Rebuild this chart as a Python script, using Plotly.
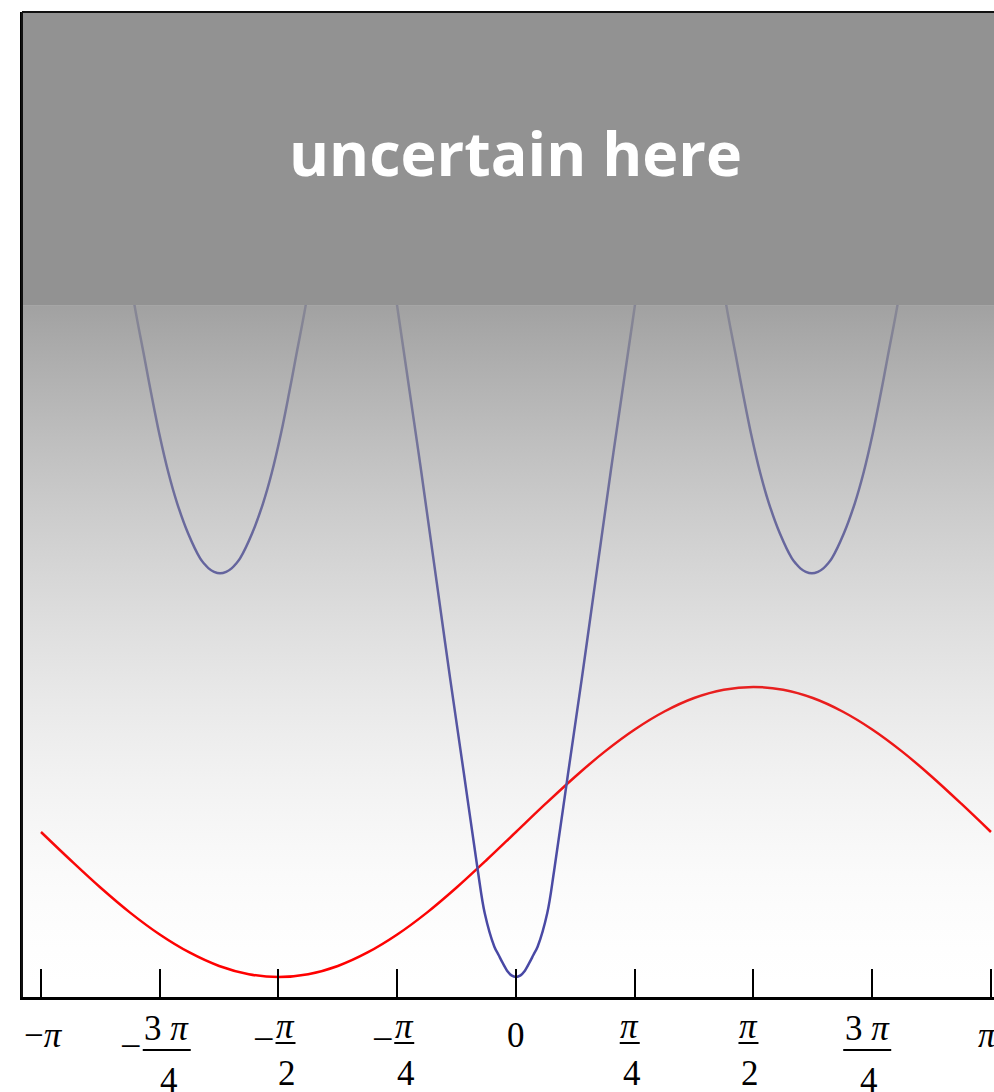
import base64
import math
import plotly.graph_objects as go

# ---- data -------------------------------------------------------------
PI = math.pi

# red curve
red_x = [-3.1416, -2.9452, -2.7489, -2.5525, -2.3562, -2.1598, -1.9635, -1.7671,
         -1.5708, -1.3744, -1.1781, -0.9817, -0.7854, -0.5890, -0.3927, -0.1963,
         0.0, 0.1963, 0.3927, 0.5890, 0.7854, 0.9817, 1.1781, 1.3744,
         1.5708, 1.7671, 1.9635, 2.1598, 2.3562, 2.5525, 2.7489, 2.9452, 3.1416]
red_y = [0.0, -0.195, -0.383, -0.556, -0.707, -0.831, -0.924, -0.981,
         -1.0, -0.981, -0.924, -0.831, -0.707, -0.556, -0.383, -0.195,
         0.0, 0.195, 0.383, 0.556, 0.707, 0.831, 0.924, 0.981,
         1.0, 0.981, 0.924, 0.831, 0.707, 0.556, 0.383, 0.195, 0.0]

# blue curve, three lobes (the parts above the shaded band are not shown)
blue_left_x = [-2.577, -2.523, -2.463, -2.413, -2.360, -2.298, -2.241, -2.169, -2.089, -2.062,
               -2.033, -1.997, -1.957, -1.917, -1.881, -1.852,
               -1.825, -1.745, -1.673, -1.616, -1.554, -1.501, -1.451, -1.391, -1.337]
blue_left_y = [3.99, 3.632, 3.301, 3.025, 2.750, 2.474, 2.267, 2.060, 1.887, 1.850,
               1.818, 1.794, 1.784, 1.794, 1.818, 1.850,
               1.887, 2.060, 2.267, 2.474, 2.750, 3.025, 3.301, 3.632, 3.99]
blue_mid_x = [-0.92, -0.787, -0.645, -0.524, -0.437, -0.344, -0.253, -0.207, -0.143, -0.115,
              -0.088, -0.055, -0.03, 0.0, 0.03, 0.055, 0.088,
              0.115, 0.143, 0.207, 0.253, 0.344, 0.437, 0.524, 0.645, 0.787, 0.92]
blue_mid_y = [4.6, 3.634, 2.62, 1.72, 1.07, 0.40, -0.262, -0.559, -0.791, -0.848,
              -0.903, -0.962, -0.989, -1.0, -0.989, -0.962, -0.903,
              -0.848, -0.791, -0.559, -0.262, 0.40, 1.07, 1.72, 2.62, 3.634, 4.6]
blue_right_x = [1.337, 1.391, 1.451, 1.501, 1.554, 1.616, 1.673, 1.745, 1.825, 1.852,
                1.881, 1.917, 1.957, 1.997, 2.033, 2.062,
                2.089, 2.169, 2.241, 2.298, 2.360, 2.413, 2.463, 2.523, 2.577]
blue_right_y = [3.99, 3.632, 3.301, 3.025, 2.750, 2.474, 2.267, 2.060, 1.887, 1.850,
                1.818, 1.794, 1.784, 1.794, 1.818, 1.850,
                1.887, 2.060, 2.267, 2.474, 2.750, 3.025, 3.301, 3.632, 3.99]

# x ticks: value, sign, numerator, denominator
tick_vals = [-PI, -3 * PI / 4, -PI / 2, -PI / 4, 0.0, PI / 4, PI / 2, 3 * PI / 4, PI]
tick_sign = ["", "−", "−", "−", "", "", "", "", ""]
tick_num = ["−<i>π</i>", "3 <i>π</i>", "<i>π</i>", "<i>π</i>", "0",
            "<i>π</i>", "<i>π</i>", "3 <i>π</i>", "<i>π</i>"]
tick_den = [None, "4", "2", "4", None, "4", "2", "4", None]

band_label = "uncertain here"

# ---- geometry ---------------------------------------------------------
W, H = 994, 1092
ML, MR, MT, MB = 22, 0, 12, 95
PW, PH = W - ML - MR, H - MT - MB
XR = [-3.2673, 3.1617]
YR = [-1.138, 5.655]
BAND_Y = 3.634
BOTTOM_PX = MT + PH  # pixel row of the x axis


def xpx(v):
    return ML + (v - XR[0]) / (XR[1] - XR[0]) * PW


def paper_x(px):
    return (px - ML) / PW


def paper_y(py):
    return (BOTTOM_PX - py) / PH


fig = go.Figure()

fig.add_trace(go.Scatter(x=red_x, y=red_y, mode="lines",
                         line=dict(color="rgb(255,0,0)", width=2.5, shape="spline"),
                         hoverinfo="skip", showlegend=False))

bx = blue_left_x + [None] + blue_mid_x + [None] + blue_right_x
by = blue_left_y + [None] + blue_mid_y + [None] + blue_right_y
fig.add_trace(go.Scatter(x=bx, y=by, mode="lines", connectgaps=False,
                         line=dict(color="rgb(72,72,165)", width=2.5, shape="spline",
                                   smoothing=1.0),
                         hoverinfo="skip", showlegend=False))

# ---- vertical haze: grey, transparent at the axis, dense under the band ----
stops = []
n = 32
for i in range(n + 1):
    off = i / n
    a = 0.86 * (1 - off) ** 1.7
    stops.append(f"<stop offset='{off:.4f}' stop-color='rgb(146,146,146)' stop-opacity='{a:.4f}'/>")
svg = ("<svg xmlns='http://www.w3.org/2000/svg' width='10' height='100' viewBox='0 0 10 100' "
       "preserveAspectRatio='none'><defs><linearGradient id='g' x1='0' y1='0' x2='0' y2='1'>"
       + "".join(stops) +
       "</linearGradient></defs><rect x='0' y='0' width='10' height='100' fill='url(#g)'/></svg>")
src = "data:image/svg+xml;base64," + base64.b64encode(svg.encode()).decode()
fig.add_layout_image(dict(source=src, xref="paper", yref="y", x=0, y=BAND_Y,
                          sizex=1, sizey=BAND_Y - YR[0], xanchor="left", yanchor="top",
                          sizing="stretch", layer="above", opacity=1))

shapes = []
# opaque band at the top
shapes.append(dict(type="rect", xref="paper", yref="y", x0=0, x1=1, y0=BAND_Y, y1=YR[1],
                   fillcolor="#929292", line=dict(width=0), layer="above"))
# frame: top and left edges
shapes.append(dict(type="line", xref="paper", yref="paper", x0=0, x1=1, y0=1, y1=1,
                   line=dict(color="#111", width=2), layer="above"))
shapes.append(dict(type="line", xref="paper", yref="paper", x0=0, x1=0, y0=0, y1=1,
                   line=dict(color="#111", width=2), layer="above"))

annotations = [dict(text=f"<b>{band_label}</b>", xref="x", yref="y", x=0,
                    y=(BAND_Y + YR[1]) / 2, yshift=6, showarrow=False,
                    font=dict(family="Open Sans", size=61, color="white"))]

tick_font = dict(family="Liberation Serif, Times New Roman, serif", size=35, color="black")

for v, s, num, den in zip(tick_vals, tick_sign, tick_num, tick_den):
    tp = xpx(v)
    if den is None:
        if v < 0:
            cx = tp + 2
        elif v > 0:
            cx = tp - 3
        else:
            cx = tp
        annotations.append(dict(text=num, xref="paper", yref="paper", x=paper_x(cx), y=0,
                                xanchor="center", yanchor="middle", yshift=-38,
                                showarrow=False, font=tick_font))
        continue
    wide = num.startswith("3")
    hw = 24 if wide else 10
    bar_py = 1050 if wide else 1043
    cx = tp + 7 if v < 0 else tp - 5
    # numerator, bar, denominator
    annotations.append(dict(text=num, xref="paper", yref="paper", x=paper_x(cx), y=0,
                            xanchor="center", yanchor="middle",
                            yshift=-31.5 if wide else -29.5,
                            showarrow=False, font=tick_font))
    shapes.append(dict(type="line", xref="paper", yref="paper",
                       x0=paper_x(cx - hw), x1=paper_x(cx + hw),
                       y0=paper_y(bar_py), y1=paper_y(bar_py),
                       line=dict(color="black", width=2)))
    annotations.append(dict(text=den, xref="paper", yref="paper", x=paper_x(cx + 2), y=0,
                            xanchor="center", yanchor="middle",
                            yshift=-83.5 if wide else -76.5,
                            showarrow=False, font=tick_font))
    if s:
        annotations.append(dict(text=s, xref="paper", yref="paper",
                                x=paper_x(cx - hw - 12), y=0,
                                xanchor="center", yanchor="middle",
                                yshift=-(bar_py - 4 - BOTTOM_PX),
                                showarrow=False,
                                font=dict(family=tick_font["family"], size=38, color="black")))

fig.update_layout(
    width=W, height=H,
    margin=dict(l=ML, r=MR, t=MT, b=MB, pad=0),
    paper_bgcolor="white", plot_bgcolor="white",
    showlegend=False,
    shapes=shapes, annotations=annotations,
    xaxis=dict(range=XR, showgrid=False, zeroline=False, showline=True,
               linecolor="black", linewidth=3,
               tickmode="array", tickvals=tick_vals, showticklabels=False,
               ticks="inside", ticklen=28, tickwidth=2.2, tickcolor="black"),
    yaxis=dict(range=YR, showgrid=False, zeroline=False, showline=True,
               linecolor="black", linewidth=2, showticklabels=False, ticks=""),
)

fig.write_html("out.html", config={"displayModeBar": False})
